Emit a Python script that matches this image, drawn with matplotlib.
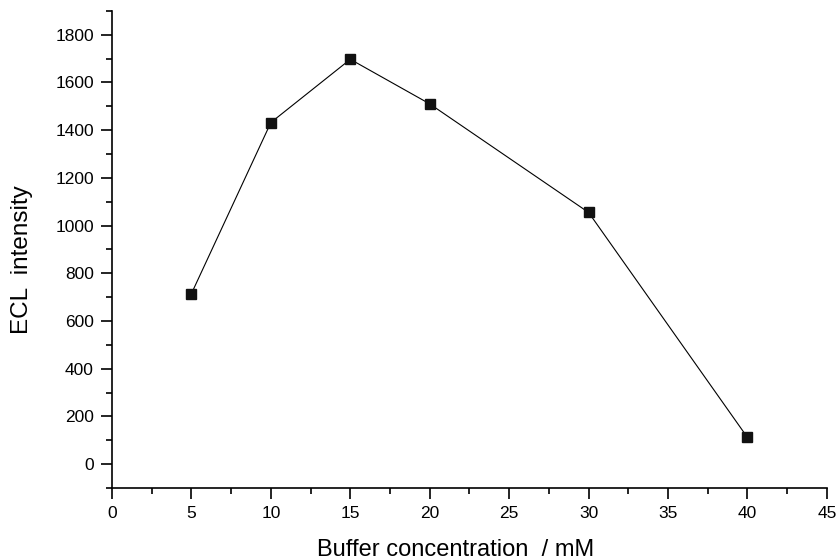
import matplotlib.pyplot as plt
from matplotlib.ticker import MultipleLocator

plt.rcParams['font.family'] = ['Liberation Sans', 'DejaVu Sans']

conc = [5, 10, 15, 20, 30, 40]
ecl = [715, 1432, 1697, 1510, 1055, 112]

fig = plt.figure(figsize=(8.38, 5.6), dpi=100)
ax = fig.add_axes([0.1337, 0.1286, 0.853, 0.852])

ax.plot(conc, ecl, color='black', lw=0.8, marker='s', ms=7, mfc='#111111', mec='#111111')

ax.set_xlim(0, 45)
ax.set_ylim(-100, 1900)
ax.xaxis.set_major_locator(MultipleLocator(5))
ax.xaxis.set_minor_locator(MultipleLocator(2.5))
ax.yaxis.set_major_locator(MultipleLocator(200))
ax.yaxis.set_minor_locator(MultipleLocator(100))

for s in ['top', 'right']:
    ax.spines[s].set_visible(False)
for s in ['left', 'bottom']:
    ax.spines[s].set_linewidth(1.2)

ax.tick_params(which='major', direction='out', length=8, width=1.2, labelsize=12.5, pad=5)
ax.tick_params(which='minor', direction='out', length=4, width=1.2)

ax.set_xlabel('Buffer concentration  / mM', fontsize=17, labelpad=13)
ax.set_ylabel('ECL  intensity', fontsize=17.5, labelpad=16)
ax.xaxis.label.set_x(0.48)
ax.yaxis.label.set_y(0.478)

fig.savefig('out.png', dpi=100)
